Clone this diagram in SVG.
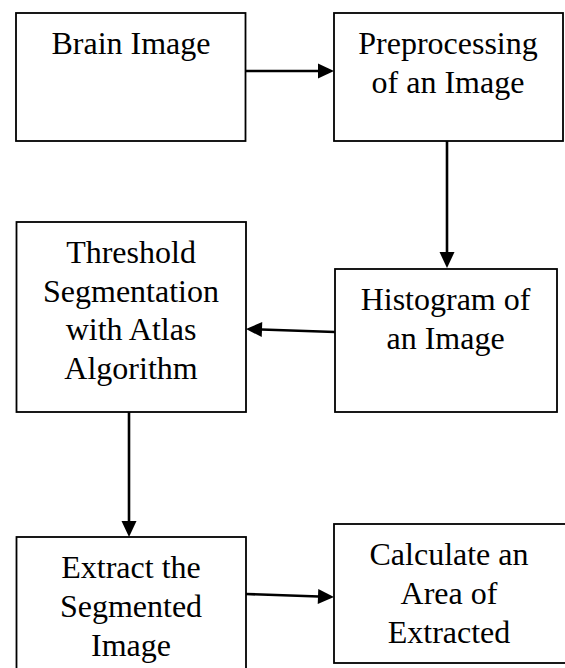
<svg xmlns="http://www.w3.org/2000/svg" width="565" height="668" viewBox="0 0 565 668">
  <style>
    .box { fill: #ffffff; stroke: #000000; stroke-width: 1.8; }
    .lbl { font-size: 32px; fill: #000000; text-anchor: middle; }
    .edge { stroke: #000000; stroke-width: 2.6; fill: none; }
  </style>
  <defs>
    <marker id="head" markerUnits="userSpaceOnUse" markerWidth="17" markerHeight="16" refX="8" refY="7.5" orient="auto" overflow="visible">
      <path d="M0,0 L16,7.5 L0,15 Z" fill="#000000"/>
    </marker>
  </defs>
  <rect width="565" height="668" fill="#ffffff"/>

  <g font-family="Liberation Serif, DejaVu Serif, serif">
  <g id="brain-image">
    <rect class="box" x="16" y="13" width="229.5" height="128"/>
    <text class="lbl" x="131" y="54">Brain Image</text>
  </g>

  <g id="preprocessing">
    <rect class="box" x="334" y="13" width="229" height="128"/>
    <text class="lbl" x="448" y="54">Preprocessing</text>
    <text class="lbl" x="448" y="92.5">of an Image</text>
  </g>

  <g id="histogram">
    <rect class="box" x="335" y="269" width="222" height="143"/>
    <text class="lbl" x="445.5" y="310">Histogram of</text>
    <text class="lbl" x="445.5" y="348.5">an Image</text>
  </g>

  <g id="threshold">
    <rect class="box" x="16.5" y="222" width="229.5" height="190"/>
    <text class="lbl" x="131" y="263">Threshold</text>
    <text class="lbl" x="131" y="301.5">Segmentation</text>
    <text class="lbl" x="131" y="340">with Atlas</text>
    <text class="lbl" x="131" y="378.5">Algorithm</text>
  </g>

  <g id="extract">
    <rect class="box" x="16.5" y="537" width="229.5" height="140"/>
    <text class="lbl" x="131" y="578">Extract the</text>
    <text class="lbl" x="131" y="617">Segmented</text>
    <text class="lbl" x="131" y="656">Image</text>
  </g>

  <g id="calculate">
    <rect class="box" x="334" y="524" width="240" height="139"/>
    <text class="lbl" x="449" y="565">Calculate an</text>
    <text class="lbl" x="449" y="604">Area of</text>
    <text class="lbl" x="449" y="643">Extracted</text>
  </g>
  </g>

  <g id="connectors">
    <line class="edge" x1="245" y1="71" x2="326" y2="71" marker-end="url(#head)"/>
    <line class="edge" x1="447" y1="141" x2="447" y2="260" marker-end="url(#head)"/>
    <line class="edge" x1="335" y1="332" x2="254" y2="329.3" marker-end="url(#head)"/>
    <line class="edge" x1="129" y1="412" x2="129" y2="529" marker-end="url(#head)"/>
    <line class="edge" x1="246" y1="594" x2="326" y2="596.7" marker-end="url(#head)"/>
  </g>
</svg>
